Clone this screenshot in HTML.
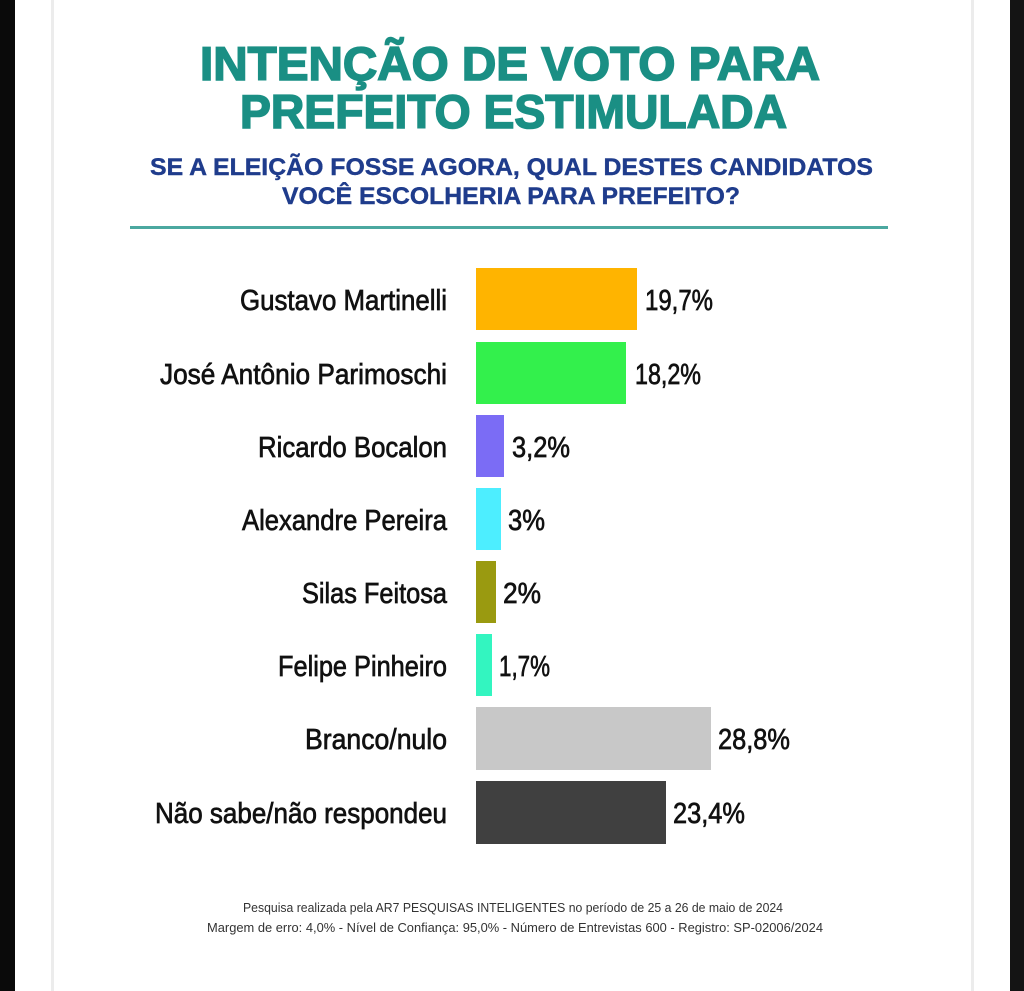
<!DOCTYPE html>
<html><head><meta charset="utf-8"><style>
html,body{margin:0;padding:0;background:#fff;}
svg{display:block;}
</style></head><body>
<svg width="1024" height="991" viewBox="0 0 1024 991" xmlns="http://www.w3.org/2000/svg" font-family="Liberation Sans, sans-serif">
<rect x="0" y="0" width="1024" height="991" fill="#fff"/>
<rect x="0" y="0" width="15" height="991" fill="#0a0a0a"/>
<rect x="1010" y="0" width="14" height="991" fill="#141414"/>
<rect x="51" y="0" width="3" height="991" fill="#ececec"/>
<rect x="971" y="0" width="3" height="991" fill="#ececec"/>
<g font-weight="bold" fill="#1a8f84" stroke="#1a8f84" stroke-width="1.6" font-size="47">
<text x="200" y="80" textLength="620" lengthAdjust="spacingAndGlyphs">INTENÇÃO DE VOTO PARA</text>
<text x="240" y="128" textLength="547" lengthAdjust="spacingAndGlyphs">PREFEITO ESTIMULADA</text>
</g>
<g font-weight="bold" fill="#1f3c8c" stroke="#1f3c8c" stroke-width="0.4" font-size="24">
<text x="150" y="175" textLength="723" lengthAdjust="spacingAndGlyphs">SE A ELEIÇÃO FOSSE AGORA, QUAL DESTES CANDIDATOS</text>
<text x="282" y="204" textLength="458" lengthAdjust="spacingAndGlyphs">VOCÊ ESCOLHERIA PARA PREFEITO?</text>
</g>
<rect x="130" y="226" width="758" height="3" fill="#4ba8a0"/>
<g>
<rect x="476" y="268" width="161" height="62" fill="#ffb400"/>
<rect x="476" y="342" width="150" height="62" fill="#33f04c"/>
<rect x="476" y="415" width="28" height="62" fill="#7b6cf5"/>
<rect x="476" y="488" width="25" height="62" fill="#4deeff"/>
<rect x="476" y="561" width="20" height="62" fill="#9a9a10"/>
<rect x="476" y="634" width="16" height="62" fill="#33f5c0"/>
<rect x="476" y="707" width="235" height="63" fill="#c8c8c8"/>
<rect x="476" y="781" width="190" height="63" fill="#404040"/>
</g>
<g font-size="29" fill="#111" stroke="#111" stroke-width="0.7">
<text x="240" y="310" textLength="207" lengthAdjust="spacingAndGlyphs">Gustavo Martinelli</text>
<text x="160" y="384" textLength="287" lengthAdjust="spacingAndGlyphs">José Antônio Parimoschi</text>
<text x="258" y="457" textLength="189" lengthAdjust="spacingAndGlyphs">Ricardo Bocalon</text>
<text x="242" y="530" textLength="205" lengthAdjust="spacingAndGlyphs">Alexandre Pereira</text>
<text x="302" y="603" textLength="145" lengthAdjust="spacingAndGlyphs">Silas Feitosa</text>
<text x="278" y="676" textLength="169" lengthAdjust="spacingAndGlyphs">Felipe Pinheiro</text>
<text x="305" y="749" textLength="142" lengthAdjust="spacingAndGlyphs">Branco/nulo</text>
<text x="155" y="823" textLength="292" lengthAdjust="spacingAndGlyphs">Não sabe/não respondeu</text>
<text x="645" y="310" textLength="68" lengthAdjust="spacingAndGlyphs">19,7%</text>
<text x="635" y="384" textLength="66" lengthAdjust="spacingAndGlyphs">18,2%</text>
<text x="512" y="457" textLength="58" lengthAdjust="spacingAndGlyphs">3,2%</text>
<text x="508" y="530" textLength="37" lengthAdjust="spacingAndGlyphs">3%</text>
<text x="503" y="603" textLength="38" lengthAdjust="spacingAndGlyphs">2%</text>
<text x="499" y="676" textLength="51" lengthAdjust="spacingAndGlyphs">1,7%</text>
<text x="718" y="749" textLength="72" lengthAdjust="spacingAndGlyphs">28,8%</text>
<text x="673" y="823" textLength="72" lengthAdjust="spacingAndGlyphs">23,4%</text>
</g>
<g font-size="13" fill="#333">
<text x="243" y="912" textLength="540" lengthAdjust="spacingAndGlyphs">Pesquisa realizada pela AR7 PESQUISAS INTELIGENTES no período de 25 a 26 de maio de 2024</text>
<text x="207" y="932" textLength="616" lengthAdjust="spacingAndGlyphs">Margem de erro: 4,0% - Nível de Confiança: 95,0% - Número de Entrevistas 600 - Registro: SP-02006/2024</text>
</g>
</svg>
</body></html>
